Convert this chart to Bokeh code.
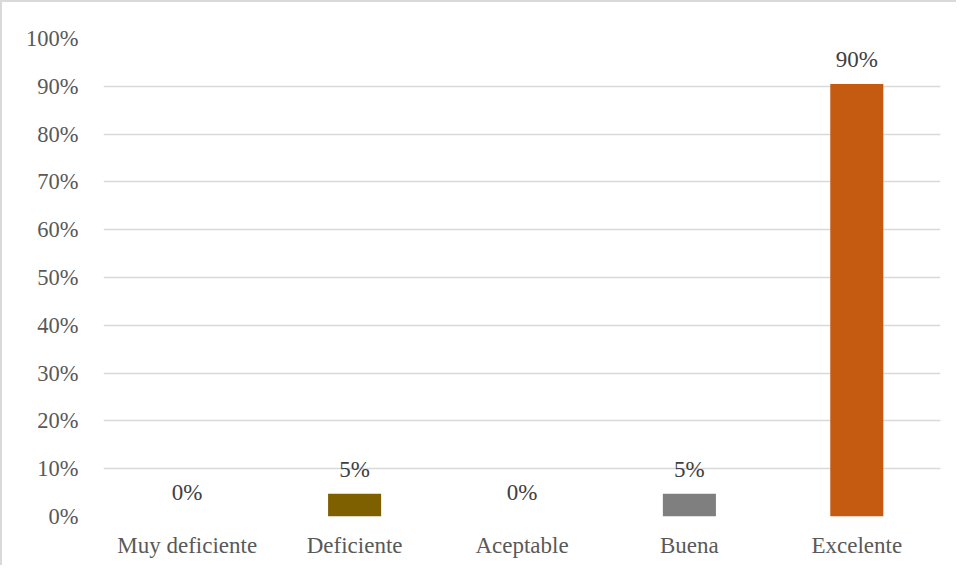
from bokeh.plotting import figure
from bokeh.models import ColumnDataSource, FixedTicker, PrintfTickFormatter, Range1d
from bokeh.core.properties import value
from bokeh.embed import file_html
from bokeh.resources import INLINE

categories = ["Muy deficiente", "Deficiente", "Aceptable", "Buena", "Excelente"]
values = [0.0, 4.76, 0.0, 4.76, 90.48]
labels = ["0%", "5%", "0%", "5%", "90%"]
colors = ["#4472c4", "#7f6000", "#a5a5a5", "#7f7f7f", "#c55a11"]
y_ticks = [0, 10, 20, 30, 40, 50, 60, 70, 80, 90, 100]

FONT = "Liberation Serif"

src = ColumnDataSource(dict(cat=categories, val=values, lab=labels, col=colors))

p = figure(x_range=categories, y_range=Range1d(0, 100), width=956, height=565,
           output_backend="svg", toolbar_location=None,
           min_border_left=101, min_border_right=18, min_border_top=36, min_border_bottom=51,
           styles={"border-left": "2px solid #d9d9d9", "border-top": "2px solid #d9d9d9"})
p.outline_line_color = None
p.x_range.range_padding = 0

p.vbar(x="cat", top="val", width=0.317, fill_color="col", line_color=None, source=src)
p.text(x="cat", y="val", text="lab", source=src, text_align="center", text_baseline="bottom",
       y_offset=-12, text_font=value(FONT), text_font_size="23px", text_color="#404040")

p.yaxis.ticker = FixedTicker(ticks=y_ticks)
p.yaxis.formatter = PrintfTickFormatter(format="%d%%")
for ax in (p.xaxis, p.yaxis):
    ax.axis_line_color = None
    ax.major_tick_line_color = None
    ax.minor_tick_line_color = None
    ax.major_label_text_font = FONT
    ax.major_label_text_font_size = "23px"
    ax.major_label_text_color = "#595959"
p.yaxis.major_label_text_font_size = "22.5px"
p.yaxis.major_label_standoff = 19
p.xaxis.major_label_standoff = 10
p.xgrid.grid_line_color = None
p.ygrid.grid_line_color = "#d9d9d9"
p.ygrid.grid_line_width = 1.5

open("out.html", "w").write(file_html(p, INLINE))
